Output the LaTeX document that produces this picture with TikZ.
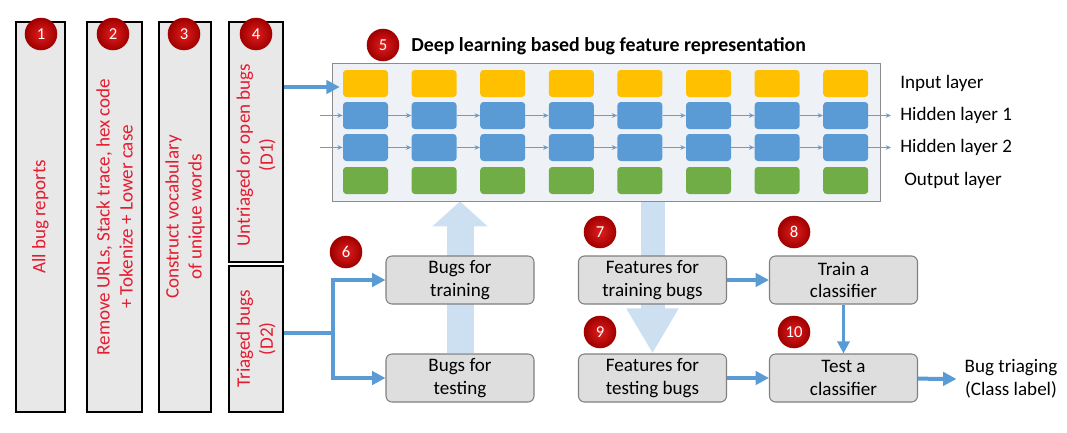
\documentclass[tikz,border=0pt]{standalone}
\usepackage{fontspec}
\setmainfont{Carlito}
\usetikzlibrary{arrows.meta,calc}
\definecolor{cyellow}{RGB}{255,192,0}
\definecolor{cblue}{RGB}{91,155,213}
\definecolor{cgreen}{RGB}{112,173,71}
\definecolor{badgered}{RGB}{192,0,0}
\definecolor{badgelight}{RGB}{225,30,30}
\definecolor{badgedark}{RGB}{160,0,0}
\definecolor{txtred}{RGB}{228,28,48}
\definecolor{lightarr}{RGB}{205,224,242}
\definecolor{thinblue}{RGB}{120,150,190}
\definecolor{netfill}{RGB}{238,241,246}
\definecolor{stepfill}{RGB}{222,222,222}
\definecolor{colfill}{RGB}{232,232,232}
\pgfdeclarelayer{background}
\pgfsetlayers{background,main}
\begin{document}
\begin{tikzpicture}[x=0.75pt,y=-0.75pt,
  every node/.style={font=\fontsize{14.3}{17.2}\selectfont},
  colbox/.style={draw=black,line width=1.1pt,fill=colfill,rotate=90,text=txtred,align=center,inner sep=0pt},
  coltext/.style={rotate=90,text=txtred,align=center,inner sep=0pt},
  badge/.style={circle,inner color=badgelight,outer color=badgedark,draw=badgedark,line width=0.4pt,text=white,minimum size=24pt,inner sep=0pt,font=\fontsize{12.5}{13}\selectfont},
  stepbox/.style={draw=black!50,line width=0.8pt,fill=stepfill,rounded corners=4.5pt,minimum width=111pt,minimum height=36pt,align=center,inner sep=0pt},
  cell/.style={rounded corners=2.5pt,minimum width=33.75pt,minimum height=20.25pt,inner sep=0pt},
  bigarrow/.style={draw=cblue,line width=3pt,-{Triangle[length=10pt,width=10pt]}},
  medarrow/.style={draw=cblue,line width=2.2pt,-{Triangle[length=9pt,width=9pt]}},
  thinarr/.style={draw=thinblue,line width=0.8pt,-{Stealth[length=4pt,width=3.5pt]}},
  lightup/.style={draw=lightarr,line width=20.25pt,-{Triangle[length=18.75pt,width=40.5pt]}},
  lightdown/.style={draw=lightarr,line width=18pt,-{Triangle[length=33.75pt,width=36.75pt]}},
  lbl/.style={anchor=west,inner sep=0pt}]
\useasboundingbox (0,0) rectangle (1067,432);

% left column boxes
\node[colbox,minimum width=292.5pt,minimum height=36.75pt] (c1) at (40.5,217) {All bug reports};
\node[colbox,minimum width=292.5pt,minimum height=41.25pt] (c2) at (114.5,217) {Remove URLs, Stack trace, hex code\\+ Tokenize + Lower case};
\node[colbox,minimum width=292.5pt,minimum height=39pt] (c3) at (185,217) {Construct vocabulary\\of unique words};
\node[colbox,minimum width=180pt,minimum height=40.5pt] (c4a) at (256,142) {};
\node[coltext] (t4a) at (256,155) {Untriaged or open bugs\\(D1)};
\node[colbox,minimum width=109.5pt,minimum height=40.5pt] (c4b) at (256,339) {Triaged bugs\\(D2)};

\node[badge] (n1) at (41,34) {1};
\node[badge] (n2) at (113,34) {2};
\node[badge] (n3) at (184,34) {3};
\node[badge] (n4) at (256,34) {4};

% network
\node[draw=black!45,line width=0.6pt,fill=netfill,minimum width=411pt,minimum height=103.5pt,inner sep=0pt] (net) at (606,132) {};
\foreach \i in {0,...,7} {
  \pgfmathsetmacro\cx{365.5+68.6*\i}
  \node[cell,fill=cyellow] (y\i) at (\cx,83.5) {};
  \node[cell,fill=cblue] (a\i) at (\cx,115.5) {};
  \node[cell,fill=cblue] (b\i) at (\cx,147.5) {};
  \node[cell,fill=cgreen] (g\i) at (\cx,180.5) {};
}
\coordinate (ain) at (320,115.5);
\coordinate (bin) at (320,147.5);
\coordinate (aout) at (891,115.5);
\coordinate (bout) at (891,147.5);
\draw[thinarr] (ain) -- (a0);
\draw[thinarr] (bin) -- (b0);
\foreach \i [evaluate=\i as \j using int(\i+1)] in {0,...,6} {
  \draw[thinarr] (a\i) -- (a\j);
  \draw[thinarr] (b\i) -- (b\j);
}
\draw[thinarr] (a7) -- (aout);
\draw[thinarr] (b7) -- (bout);

\node[lbl] (l1) at (900,83.5) {Input layer};
\node[lbl] (l2) at (900,115.5) {Hidden layer 1};
\node[lbl] (l3) at (900,147.5) {Hidden layer 2};
\node[lbl] (l4) at (904,180.5) {Output layer};

\node[badge] (n5) at (383,45) {5};
\node[anchor=west,inner sep=0pt,font=\fontsize{14.9}{17}\selectfont\bfseries] (title) at (411,46) {Deep learning based bug feature representation};

% lower steps
\node[stepbox] (btrain) at (460,280) {Bugs for\\training};
\node[stepbox] (btest) at (460,378) {Bugs for\\testing};
\node[stepbox] (ftrain) at (652.5,280) {Features for\\training bugs};
\node[stepbox] (ftest) at (652.5,378) {Features for\\testing bugs};
\node[stepbox] (train) at (843.5,280) {Train a\\classifier};
\node[stepbox] (test) at (843.5,378) {Test a\\classifier};
\node[align=center,inner sep=0pt] (result) at (1011,379) {Bug triaging\\(Class label)};

\node[badge] (n6) at (346,252) {6};
\node[badge] (n7) at (600,232) {7};
\node[badge] (n8) at (794,232) {8};
\node[badge] (n9) at (600,332) {9};
\node[badge] (n10) at (794,332) {10};

% light arrows behind
\begin{pgfonlayer}{background}
\draw[lightup] (btest.north) -- (btest.north |- net.south);
\draw[lightdown] (ftest.north |- net.south) -- (ftest.north);
\end{pgfonlayer}

% connectors
\draw[bigarrow] (c4a.south |- 0,87) -- ($(y0.west |- 0,87)+(-3,0)$);
\coordinate (j) at (333,333);
\draw[bigarrow] (c4b.south |- j) -- (j) |- (btrain.west);
\draw[bigarrow] (j) |- (btest.west);
\draw[bigarrow] (ftrain) -- (train);
\draw[bigarrow] (ftest) -- (test);
\draw[medarrow] (train) -- (test);
\draw[bigarrow] (test) -- ($(result.west)+(-8,0)$);
\end{tikzpicture}
\end{document}
